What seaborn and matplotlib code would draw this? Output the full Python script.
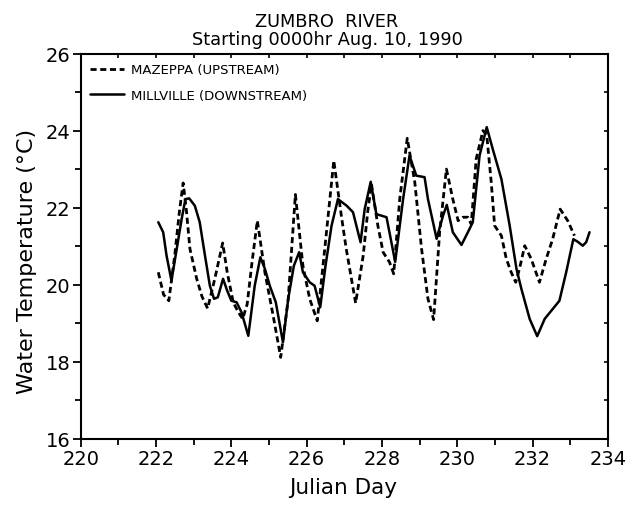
import matplotlib
matplotlib.use("Agg")
import matplotlib.pyplot as plt
import seaborn as sns
import pandas as pd
from matplotlib.ticker import MultipleLocator, NullFormatter

# ---- data ----
maz_day = [222.06, 222.20, 222.34, 222.50, 222.62, 222.72, 222.80, 222.90, 223.08, 223.22,
           223.37, 223.56, 223.77, 223.89, 224.05, 224.18, 224.30, 224.42, 224.55, 224.69,
           224.89, 225.11, 225.31, 225.51, 225.70, 225.90, 226.08, 226.28, 226.48, 226.72,
           226.92, 227.05, 227.30, 227.50, 227.62, 227.72, 227.89, 228.03, 228.20, 228.31,
           228.47, 228.67, 228.87, 229.05, 229.22, 229.37, 229.53, 229.71, 229.88, 230.02,
           230.15, 230.28, 230.37, 230.50, 230.68, 230.78, 230.90, 230.99, 231.17, 231.30,
           231.43, 231.55, 231.65, 231.79, 231.96, 232.18, 232.36, 232.53, 232.73, 232.93,
           233.11]
maz_temp = [20.33, 19.75, 19.59, 20.80, 21.90, 22.65, 22.00, 20.94, 20.16, 19.70,
            19.39, 20.16, 21.09, 20.33, 19.55, 19.30, 19.12, 19.50, 20.60, 21.67,
            20.33, 19.20, 18.12, 19.64, 22.35, 20.50, 19.64, 19.07, 20.94, 23.23,
            21.80, 20.94, 19.53, 20.76, 21.90, 22.62, 21.54, 20.85, 20.59, 20.29,
            22.23, 23.81, 22.67, 20.94, 19.64, 19.10, 21.37, 23.01, 22.23, 21.67,
            21.76, 21.76, 21.58, 23.27, 24.01, 23.90, 22.67, 21.54, 21.28, 20.68,
            20.33, 20.07, 20.42, 21.02, 20.68, 20.07, 20.68, 21.19, 21.97, 21.67,
            21.28]

mil_day = [222.06, 222.19, 222.28, 222.41, 222.55, 222.68, 222.78, 222.88, 223.03, 223.16,
           223.30, 223.43, 223.54, 223.64, 223.78, 223.89, 224.00, 224.14, 224.27, 224.45,
           224.62, 224.77, 224.89, 225.02, 225.18, 225.37, 225.51, 225.66, 225.80, 225.90,
           226.08, 226.21, 226.36, 226.50, 226.66, 226.83, 227.06, 227.23, 227.43, 227.54,
           227.70, 227.85, 228.12, 228.35, 228.56, 228.73, 228.91, 229.13, 229.22, 229.45,
           229.62, 229.72, 229.88, 230.11, 230.28, 230.41, 230.59, 230.78, 230.94, 231.17,
           231.39, 231.57, 231.70, 231.92, 232.12, 232.32, 232.71, 232.89, 233.08, 233.20,
           233.33, 233.42, 233.51]
mil_temp = [21.63, 21.37, 20.76, 20.11, 20.94, 21.71, 22.23, 22.25, 22.06, 21.63,
            20.76, 19.98, 19.64, 19.68, 20.16, 19.85, 19.59, 19.55, 19.29, 18.68,
            19.98, 20.72, 20.42, 19.98, 19.55, 18.51, 19.64, 20.50, 20.85, 20.33,
            20.07, 19.98, 19.42, 20.50, 21.54, 22.23, 22.06, 21.89, 21.11, 21.97,
            22.68, 21.84, 21.76, 20.60, 22.23, 23.36, 22.84, 22.80, 22.23, 21.20,
            21.80, 22.08, 21.37, 21.04, 21.37, 21.63, 23.36, 24.10, 23.53, 22.75,
            21.54, 20.42, 19.90, 19.12, 18.67, 19.12, 19.59, 20.33, 21.19, 21.12,
            21.02, 21.11, 21.37]

series_labels = ["MAZEPPA (UPSTREAM)", "MILLVILLE (DOWNSTREAM)"]
title_lines = ["ZUMBRO  RIVER", "Starting 0000hr Aug. 10, 1990"]
xlabel_text = "Julian Day"
ylabel_text = "Water Temperature (\u00b0C)"

# ---- plot ----
sns.set_style("ticks")
plt.rcParams["font.family"] = ["DejaVu Sans"]
plt.rcParams["text.color"] = "black"
plt.rcParams["axes.labelcolor"] = "black"
plt.rcParams["xtick.color"] = "black"
plt.rcParams["ytick.color"] = "black"

fig = plt.figure(figsize=(6.29, 5.10), dpi=100)
ax = fig.add_axes([0.1283, 0.1373, 0.9666 - 0.1283, 0.8922 - 0.1373])

df_maz = pd.DataFrame({"day": maz_day, "temp": maz_temp})
df_mil = pd.DataFrame({"day": mil_day, "temp": mil_temp})

sns.lineplot(data=df_maz, x="day", y="temp", ax=ax, color="black", lw=2.0,
             sort=False, estimator=None, label=series_labels[0])
ax.lines[-1].set_dashes([2.2, 1.3])
sns.lineplot(data=df_mil, x="day", y="temp", ax=ax, color="black", lw=1.8,
             sort=False, estimator=None, label=series_labels[1])

ax.set_xlim(220, 234)
ax.set_ylim(16, 26)
ax.xaxis.set_major_locator(MultipleLocator(2))
ax.xaxis.set_minor_locator(MultipleLocator(1))
ax.yaxis.set_major_locator(MultipleLocator(2))
ax.yaxis.set_minor_locator(MultipleLocator(1))
ax.tick_params(axis="both", which="major", direction="out", length=6, width=1.3,
               color="black", labelsize=14, pad=1.5, bottom=True, left=True,
               top=False, right=False)
ax.tick_params(axis="both", which="minor", direction="out", length=4, width=1.3,
               color="black", bottom=True, left=True, top=False, right=False)

for s in ax.spines.values():
    s.set_visible(True)
    s.set_color("black")
    s.set_linewidth(1.5)

# inward ticks on top and right via twin axes
axt = ax.twiny()
axt.set_xlim(ax.get_xlim())
axt.xaxis.set_major_locator(MultipleLocator(1))
axt.xaxis.set_major_formatter(NullFormatter())
axt.tick_params(axis="x", which="major", top=True, bottom=False, direction="in",
                length=3, width=1.2, color="black")
axr = ax.twinx()
axr.set_ylim(ax.get_ylim())
axr.yaxis.set_major_locator(MultipleLocator(1))
axr.yaxis.set_major_formatter(NullFormatter())
axr.tick_params(axis="y", which="major", right=True, left=False, direction="in",
                length=3, width=1.2, color="black")
for a in (axt, axr):
    for s in a.spines.values():
        s.set_visible(False)

ax.set_xlabel(xlabel_text, fontsize=15.5)
ax.xaxis.set_label_coords(0.498, -0.10)
ax.set_ylabel(ylabel_text, fontsize=16)
ax.yaxis.set_label_coords(-0.083, 0.465)

fig.text(0.52, 1 - 22 / 510, title_lines[0], fontsize=12.8, ha="center", va="center")
fig.text(0.52, 1 - 40 / 510, title_lines[1], fontsize=12.8, ha="center", va="center")

leg = ax.legend(loc="upper left", frameon=False, fontsize=9.5, handlelength=2.6,
                handletextpad=0.5, borderaxespad=0.3, labelspacing=0.95)

fig.savefig("out.png", dpi=100, facecolor="white")
